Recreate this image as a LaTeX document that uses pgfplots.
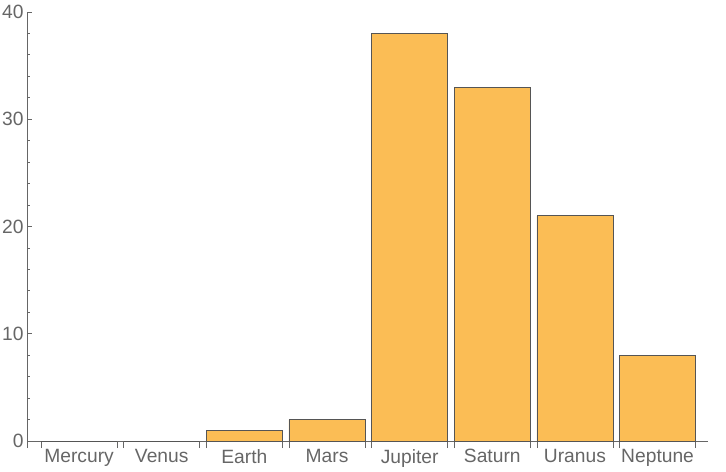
\documentclass[border=0pt]{standalone}
\usepackage{fontspec}
\setmainfont{Liberation Sans}
\usepackage{pgfplots}
\pgfplotsset{compat=1.18}
\definecolor{barfill}{HTML}{FBBD55}
\definecolor{baredge}{HTML}{555555}
\definecolor{axgray}{HTML}{666666}
\begin{document}
\begin{tikzpicture}
\useasboundingbox (-27bp,-24bp) rectangle (699bp,448bp);
\begin{axis}[
  scale only axis,
  width=681bp, height=436bp,
  xmin=-0.63, xmax=7.61,
  ymin=-0.65, ymax=40,
  axis x line=middle,
  axis y line=left,
  axis line style={draw=axgray, line width=0.8bp, -},
  xtick={0,...,7},
  xticklabels={Mercury,Venus,Earth,Mars,Jupiter,Saturn,Uranus,Neptune},
  extra x ticks={-0.46,0.46,0.54,1.46,1.54,2.46,2.54,3.46,3.54,4.46,4.54,5.46,5.54,6.46,6.54,7.46},
  extra x tick labels={},
  extra x tick style={major tick length=7bp, xtick align=outside,
     x tick style={draw=axgray, line width=0.8bp}},
  ytick={0,10,20,30,40},
  minor y tick num=4,
  xtick align=outside,
  ytick align=inside,
  x tick style={draw=none},
  y tick style={draw=axgray, line width=0.8bp},
  major tick length=5bp,
  minor tick length=3bp,
  /pgf/number format/assume math mode=true,
  tick label style={font=\fontsize{19.3}{21}\selectfont, text=axgray},
  xticklabel style={yshift=0bp},
  ybar,
  bar width=0.92,
]
\addplot[fill=barfill, draw=baredge, line width=0.8bp] coordinates {
 (0,0) (1,0) (2,1) (3,2) (4,38) (5,33) (6,21) (7,8)
};
\end{axis}
\end{tikzpicture}
\end{document}
